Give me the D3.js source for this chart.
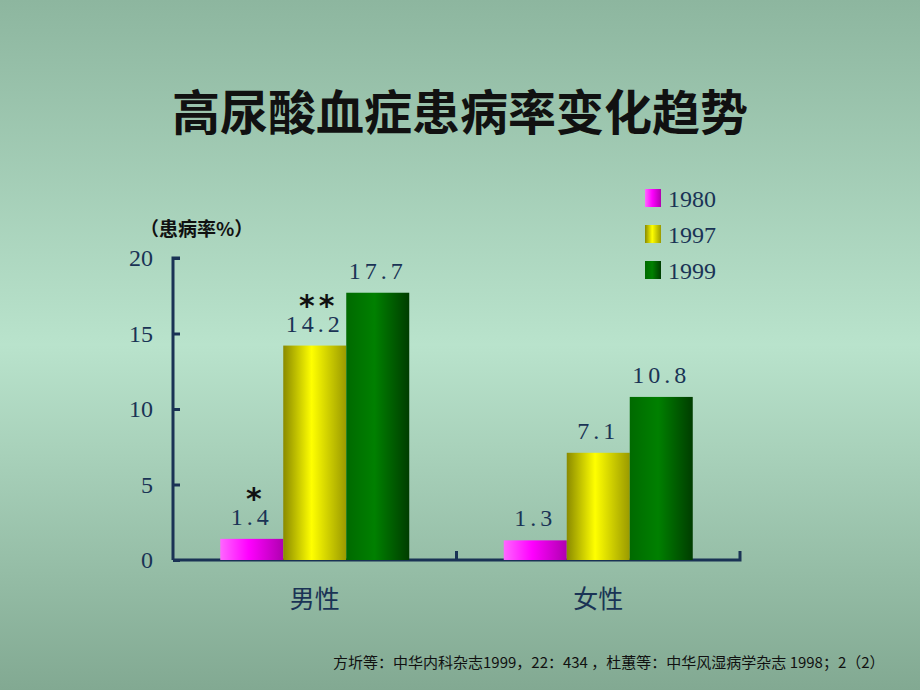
<!DOCTYPE html>
<html><head><meta charset="utf-8">
<script src="https://cdn.jsdelivr.net/npm/d3@7"></script>
<style>body{margin:0}svg{display:block}</style>
</head><body><div id="canvas"></div>
<script>
const groups = ['男性', '女性'];
const years = ['1980', '1997', '1999'];
const values = [[1.4, 14.2, 17.7], [1.3, 7.1, 10.8]];
const labels = [['1.4', '14.2', '17.7'], ['1.3', '7.1', '10.8']];
const marks = [['*', '**', ''], ['', '', '']];
const yTicks = [0, 5, 10, 15, 20];

const W = 920, H = 690;
const svg = d3.select('#canvas').append('svg').attr('width', W).attr('height', H);
const defs = svg.append('defs');

// background
const bg = defs.append('linearGradient').attr('id', 'bg').attr('x1', 0).attr('x2', 0).attr('y1', 0).attr('y2', 1);
bg.append('stop').attr('offset', 0).attr('stop-color', '#8db69f');
bg.append('stop').attr('offset', 0.5).attr('stop-color', '#b9e3cc');
bg.append('stop').attr('offset', 1).attr('stop-color', '#82a992');
svg.append('rect').attr('width', W).attr('height', H).attr('fill', 'url(#bg)');

// bar gradients
const cols = [
  ['#ff66ff', '#ff00ff', '#b000b0'],
  ['#8a8a00', '#ffff00', '#9a9a00'],
  ['#006a00', '#008000', '#003d00']
];
cols.forEach((c, i) => {
  const g = defs.append('linearGradient').attr('id', 'g' + i);
  g.append('stop').attr('offset', 0).attr('stop-color', c[0]);
  g.append('stop').attr('offset', 0.45).attr('stop-color', c[1]);
  g.append('stop').attr('offset', 1).attr('stop-color', c[2]);
});

svg.append('text').attr('x', 460).attr('y', 130).attr('text-anchor', 'middle')
  .attr('font-family', 'Noto Sans CJK SC').attr('font-weight', 'bold').attr('font-size', 48)
  .attr('fill', '#111').text('高尿酸血症患病率变化趋势');

const x0 = d3.scaleBand().domain(groups).range([173, 740]);
const x1 = d3.scaleBand().domain(years).range([0, 189]);
const y = d3.scaleLinear().domain([0, 20]).range([560, 258]);
const axisColor = '#1a3355';

const gy = svg.append('g').attr('transform', 'translate(173,0)')
  .call(d3.axisLeft(y).tickValues(yTicks).tickSize(-7).tickPadding(20));
gy.select('.domain').attr('stroke', axisColor).attr('stroke-width', 3).attr('d', 'M7,258H0V560');
gy.selectAll('.tick line').attr('stroke', axisColor).attr('stroke-width', 3);
gy.selectAll('.tick text').attr('fill', axisColor).attr('font-family', 'Liberation Serif').attr('font-size', 24);

const gx = svg.append('g').attr('transform', 'translate(0,560)')
  .call(d3.axisBottom(x0).tickSize(0).tickPadding(30));
gx.select('.domain').attr('stroke', axisColor).attr('stroke-width', 3).attr('d', 'M173,0H740V-9');
gx.selectAll('.tick text').attr('fill', axisColor).attr('font-family', 'Noto Sans CJK SC').attr('font-size', 25);
gx.append('line').attr('x1', x0('女性')).attr('x2', x0('女性')).attr('y1', 0).attr('y2', -9)
  .attr('stroke', axisColor).attr('stroke-width', 3);

svg.append('text').attr('x', 140).attr('y', 236).attr('font-family', 'Noto Sans CJK SC')
  .attr('font-weight', 'bold').attr('font-size', 19).attr('fill', '#111').text('（患病率%）');

groups.forEach((gname, gi) => {
  const off = x0(gname) + (x0.bandwidth() - 189) / 2;
  years.forEach((yr, i) => {
    const v = values[gi][i];
    const bx = off + x1(yr);
    svg.append('text').attr('x', bx + x1.bandwidth() / 2).attr('y', y(v) - 14)
      .attr('text-anchor', 'middle').attr('font-family', 'Liberation Serif').attr('font-size', 24)
      .attr('letter-spacing', 4).attr('fill', axisColor).text(labels[gi][i]);
    if (marks[gi][i]) svg.append('text').attr('x', bx + x1.bandwidth() / 2 + 4).attr('y', y(v) - 30)
      .attr('text-anchor', 'middle').attr('font-family', 'DejaVu Sans').attr('font-weight', 'bold')
      .attr('font-size', 30).attr('letter-spacing', 4).attr('fill', '#111').text(marks[gi][i]);
    svg.append('rect').attr('x', bx).attr('y', y(v)).attr('width', x1.bandwidth())
      .attr('height', y(0) - y(v)).attr('fill', `url(#g${i})`);
  });
});

// legend
years.forEach((yr, i) => {
  const ly = 198 + i * 36;
  svg.append('rect').attr('x', 645).attr('y', ly - 9).attr('width', 16).attr('height', 18).attr('fill', `url(#g${i})`);
  svg.append('text').attr('x', 668).attr('y', ly + 9).attr('font-family', 'Liberation Serif')
    .attr('font-size', 24).attr('fill', axisColor).text(yr);
});

svg.append('text').attr('x', 333).attr('y', 668).attr('font-family', 'Noto Sans CJK SC')
  .attr('font-size', 15).attr('fill', '#111')
  .text('方圻等：中华内科杂志1999，22：434  ，杜蕙等：中华风湿病学杂志 1998；2（2）');
</script></body></html>
